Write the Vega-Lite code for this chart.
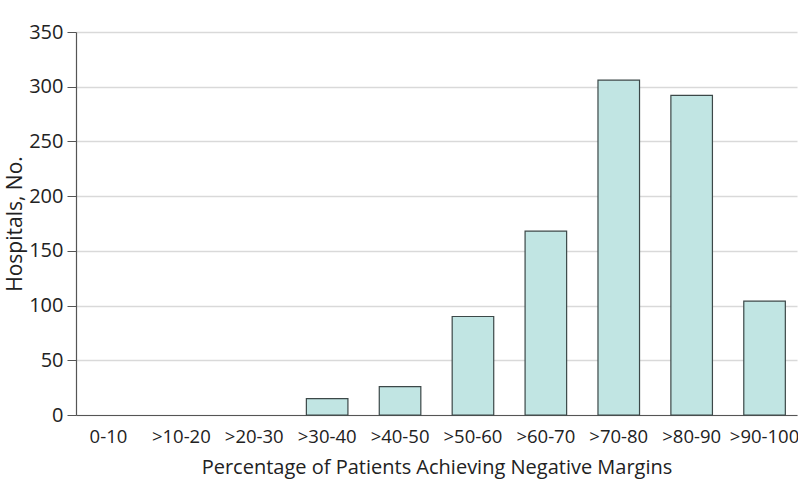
{
  "$schema": "https://vega.github.io/schema/vega-lite/v6.json",
  "width": 798,
  "height": 504,
  "autosize": {"type": "fit", "contains": "padding"},
  "padding": {"left": 4, "top": 22, "right": 1, "bottom": 26},
  "background": "white",
  "config": {
    "font": "Open Sans",
    "view": {"stroke": null}
  },
  "data": {
    "values": [
      {"range": "0-10", "hospitals": 0},
      {"range": ">10-20", "hospitals": 0},
      {"range": ">20-30", "hospitals": 0},
      {"range": ">30-40", "hospitals": 15},
      {"range": ">40-50", "hospitals": 26},
      {"range": ">50-60", "hospitals": 90},
      {"range": ">60-70", "hospitals": 168},
      {"range": ">70-80", "hospitals": 306},
      {"range": ">80-90", "hospitals": 292},
      {"range": ">90-100", "hospitals": 104}
    ]
  },
  "mark": {"type": "bar", "fill": "#c1e5e3", "stroke": "#3c4848", "strokeWidth": 1.2},
  "encoding": {
    "x": {
      "field": "range",
      "type": "ordinal",
      "sort": null,
      "scale": {"paddingInner": 0.43, "paddingOuter": 0.16},
      "axis": {
        "title": "Percentage of Patients Achieving Negative Margins",
        "titleFontSize": 20,
        "titleFontWeight": "normal",
        "titleColor": "#222",
        "titlePadding": 12,
        "labelFontSize": 18.5,
        "labelColor": "#222",
        "labelAngle": 0,
        "labelPadding": 12,
        "labelOverlap": false,
        "ticks": false,
        "domainColor": "#555",
        "domainWidth": 1.2
      }
    },
    "y": {
      "field": "hospitals",
      "type": "quantitative",
      "scale": {"domain": [0, 350], "nice": false},
      "axis": {
        "title": "Hospitals, No.",
        "titleFontSize": 21,
        "titleFontWeight": "normal",
        "titleColor": "#222",
        "titlePadding": 3,
        "labelFontSize": 20,
        "labelColor": "#222",
        "labelPadding": 4,
        "values": [0, 50, 100, 150, 200, 250, 300, 350],
        "tickSize": 9,
        "tickColor": "#555",
        "domainColor": "#555",
        "domainWidth": 1.2,
        "gridColor": "#d9d9d9",
        "gridWidth": 1.5
      }
    },
    "strokeOpacity": {
      "condition": {"test": "datum.hospitals > 0", "value": 1},
      "value": 0
    }
  }
}
